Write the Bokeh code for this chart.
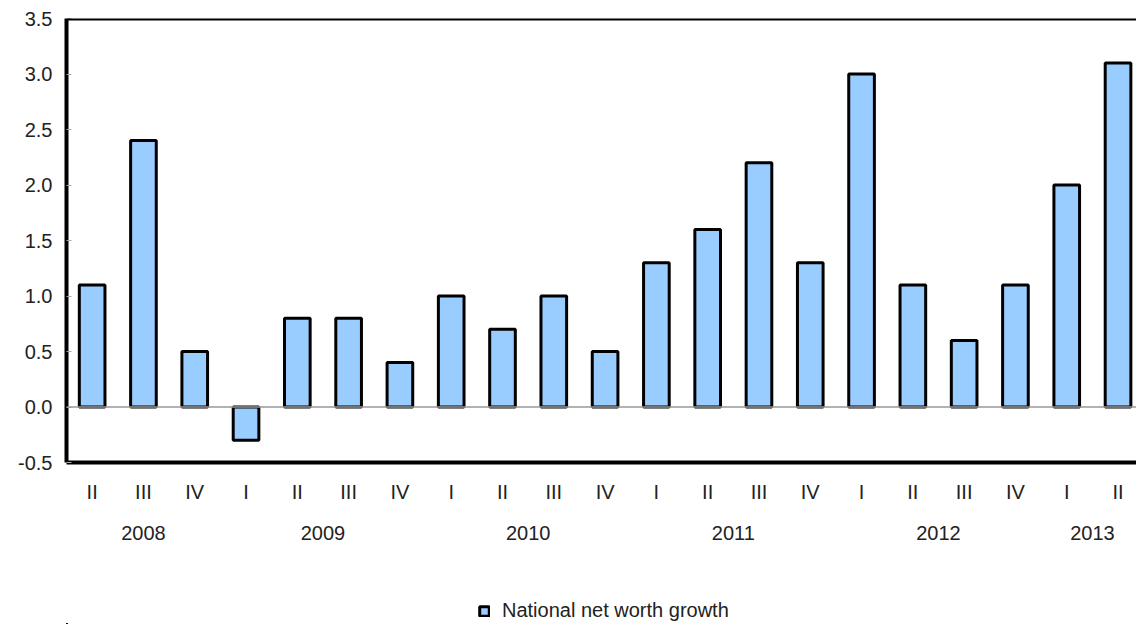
from bokeh.plotting import figure
from bokeh.layouts import column
from bokeh.models import Range1d, FixedTicker, LinearAxis, Span, Legend, LegendItem, ColumnDataSource
from bokeh.embed import file_html
from bokeh.resources import INLINE

quarters = ["II", "III", "IV", "I", "II", "III", "IV", "I", "II", "III", "IV",
            "I", "II", "III", "IV", "I", "II", "III", "IV", "I", "II"]
years = ["2008", "2009", "2010", "2011", "2012", "2013"]
year_counts = [3, 4, 4, 4, 4, 2]
growth = [1.1, 2.4, 0.5, -0.3, 0.8, 0.8, 0.4, 1.0, 0.7, 1.0, 0.5,
          1.3, 1.6, 2.2, 1.3, 3.0, 1.1, 0.6, 1.1, 2.0, 3.1]
y_ticks = [-0.5, 0.0, 0.5, 1.0, 1.5, 2.0, 2.5, 3.0, 3.5]
series_name = "National net worth growth"

xs = list(range(len(quarters)))
src = ColumnDataSource(dict(x=xs, top=growth))

FONT = "Liberation Sans"
FS = "20px"
FILL = "#99CCFF"

p = figure(width=1136, height=556, output_backend="svg", toolbar_location=None,
           x_range=Range1d(-0.5, 20.36), y_range=Range1d(-0.5, 3.5),
           min_border_left=66, min_border_right=0, min_border_top=18, min_border_bottom=94,
           x_axis_location=None, y_axis_location=None)
p.outline_line_color = None
p.grid.visible = False

zero = Span(location=0, dimension="width", line_color="#999999", line_width=1.5)
p.add_layout(zero)

r = p.vbar(x="x", top="top", bottom=0, width=0.5, source=src,
           fill_color=FILL, line_color="black", line_width=3)

top_line = Span(location=3.5, dimension="width", line_color="black", line_width=4)
p.add_layout(top_line)

yax = LinearAxis(ticker=FixedTicker(ticks=y_ticks))
yax.axis_line_color = "black"
yax.axis_line_width = 4
yax.major_tick_in = 5
yax.major_tick_out = 0
yax.major_tick_line_color = "#aaaaaa"
yax.minor_tick_line_color = None
yax.major_label_standoff = 14
yax.major_label_text_font = FONT
yax.major_label_text_font_size = FS
yax.major_label_text_color = "#222222"
yax.major_label_overrides = {t: f"{t:.1f}" for t in y_ticks}
p.add_layout(yax, "left")

qax = LinearAxis(ticker=FixedTicker(ticks=xs))
qax.major_label_overrides = {i: q for i, q in zip(xs, quarters)}
qax.axis_line_color = "black"
qax.axis_line_width = 4
qax.major_tick_line_color = None
qax.minor_tick_line_color = None
qax.major_label_standoff = 12
qax.major_label_text_font = FONT
qax.major_label_text_font_size = FS
qax.major_label_text_color = "#222222"
p.add_layout(qax, "below")

centers = []
start = 0
for c in year_counts:
    centers.append(start + (c - 1) / 2)
    start += c
yrax = LinearAxis(ticker=FixedTicker(ticks=centers))
yrax.major_label_overrides = {c: y for c, y in zip(centers, years)}
yrax.axis_line_color = None
yrax.major_tick_line_color = None
yrax.minor_tick_line_color = None
yrax.major_label_standoff = 14
yrax.major_label_text_font = FONT
yrax.major_label_text_font_size = FS
yrax.major_label_text_color = "#222222"
p.add_layout(yrax, "below")

# legend strip (its bars sit far outside the visible ranges; only the legend shows)
lg = figure(width=1136, height=68, output_backend="svg", toolbar_location=None,
            x_range=Range1d(100, 101), y_range=Range1d(100, 101),
            min_border_left=0, min_border_right=0, min_border_top=0, min_border_bottom=0,
            x_axis_location=None, y_axis_location=None)
lg.outline_line_color = None
lg.grid.visible = False
dummy = lg.vbar(x="x", top="top", bottom=0, width=0.5, source=src,
                fill_color=FILL, line_color="black", line_width=3)
legend = Legend(items=[LegendItem(label=series_name, renderers=[dummy])],
                location=(412, 2), orientation="horizontal",
                glyph_width=12, glyph_height=12, label_text_font=FONT,
                label_text_font_size=FS, label_text_color="#222222",
                border_line_color=None, background_fill_alpha=0,
                label_standoff=12, margin=0, padding=0)
lg.add_layout(legend, "center")

layout = column(p, lg, spacing=0)
open("out.html", "w").write(file_html(layout, INLINE))
